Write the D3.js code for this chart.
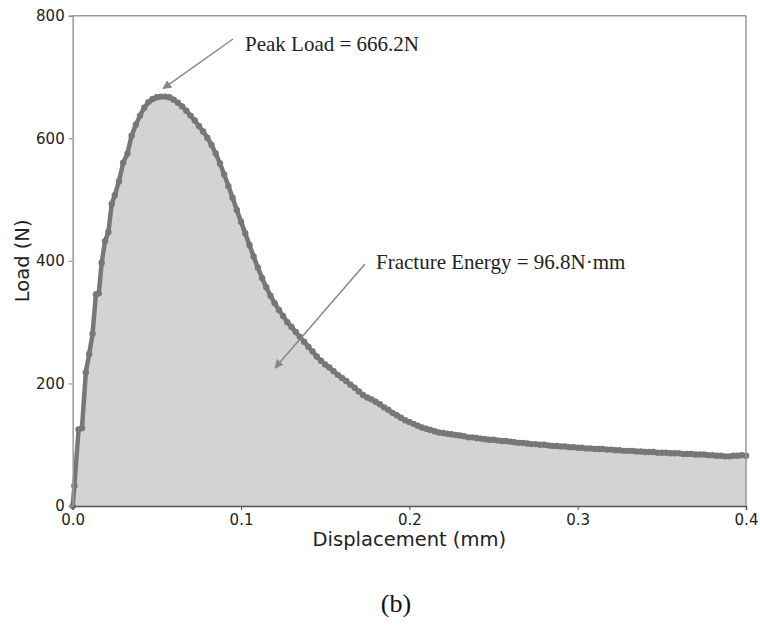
<!DOCTYPE html>
<html>
<head>
<meta charset="utf-8">
<script src="https://cdn.jsdelivr.net/npm/d3@7"></script>
<style>
  html, body { margin: 0; padding: 0; background: #fff; }
  svg { display: block; }
</style>
</head>
<body>
<svg id="chart" width="760" height="629"></svg>
<script>
// ---- data ----
const displacement = [
  0, 0.001, 0.0035, 0.0055, 0.0078, 0.0098, 0.0118, 0.0138, 0.0155, 0.0172,
  0.0192, 0.0212, 0.0232, 0.025, 0.0275, 0.03, 0.0325, 0.035, 0.0375, 0.04,
  0.0425, 0.045, 0.0475, 0.05, 0.0525, 0.055, 0.0575, 0.06, 0.0625, 0.065,
  0.0675, 0.07, 0.0725, 0.075, 0.0775, 0.08, 0.0825, 0.085, 0.0875, 0.09,
  0.0925, 0.095, 0.0975, 0.1, 0.1025, 0.105, 0.1075, 0.11, 0.1125, 0.115,
  0.1175, 0.12, 0.1225, 0.125, 0.1275, 0.13, 0.1325, 0.135, 0.1375, 0.14,
  0.1425, 0.145, 0.1475, 0.15, 0.1525, 0.155, 0.1575, 0.16, 0.1625, 0.165,
  0.1675, 0.17, 0.1725, 0.175, 0.1775, 0.18, 0.1825, 0.185, 0.1875, 0.19,
  0.1925, 0.195, 0.1975, 0.2, 0.2025, 0.205, 0.2075, 0.21, 0.2125, 0.215,
  0.2175, 0.22, 0.2225, 0.225, 0.2275, 0.23, 0.2325, 0.235, 0.2375, 0.24,
  0.2425, 0.245, 0.2475, 0.25, 0.2525, 0.255, 0.2575, 0.26, 0.2625, 0.265,
  0.2675, 0.27, 0.2725, 0.275, 0.2775, 0.28, 0.2825, 0.285, 0.2875, 0.29,
  0.2925, 0.295, 0.2975, 0.3, 0.3025, 0.305, 0.3075, 0.31, 0.3125, 0.315,
  0.3175, 0.32, 0.3225, 0.325, 0.3275, 0.33, 0.3325, 0.335, 0.3375, 0.34,
  0.3425, 0.345, 0.3475, 0.35, 0.3525, 0.355, 0.3575, 0.36, 0.3625, 0.365,
  0.3675, 0.37, 0.3725, 0.375, 0.3775, 0.38, 0.3825, 0.385, 0.3875, 0.39,
  0.3925, 0.395, 0.3975, 0.4
];
const load = [
  0, 33, 125, 127, 218, 248, 281, 345, 347, 397,
  432, 447, 493, 507, 530, 560, 575, 604, 622, 637,
  650, 659, 664, 667, 668, 668, 667, 663, 658, 652,
  645, 637, 629, 620, 611, 601, 589, 575, 559, 541,
  522, 503, 483, 464, 445, 426, 407, 389, 372, 357,
  343, 331, 320, 310, 300, 292, 284, 276, 268, 260,
  252, 244, 237, 231, 226, 220, 214, 209, 204, 198,
  193, 187, 181, 177, 174, 170, 166, 161, 157, 152,
  148, 144, 140, 137, 134, 131, 128, 126, 124, 122,
  120, 119, 118, 117, 116, 115, 114, 112, 112, 111,
  110, 109, 108, 108, 107, 106, 106, 105, 104, 103,
  103, 102, 101, 101, 100, 100, 99, 98, 98, 97,
  97, 96, 96, 95, 95, 94, 94, 93, 93, 93,
  92, 92, 91, 91, 90, 90, 90, 89, 89, 88,
  88, 88, 87, 87, 87, 86, 86, 86, 85, 85,
  85, 84, 84, 84, 83, 83, 82, 82, 81, 81,
  82, 82, 83, 82
];
const xTicks = [0.0, 0.1, 0.2, 0.3, 0.4];
const yTicks = [0, 200, 400, 600, 800];
const xLabel = "Displacement (mm)";
const yLabel = "Load (N)";
const peakText = "Peak Load = 666.2N";
const energyText = "Fracture Energy = 96.8N\u00B7mm";
const captionText = "(b)";

// ---- layout ----
const svg = d3.select("#chart");
const plotL = 72.7, plotT = 15.7, plotR = 746, plotB = 506;

const x = d3.scaleLinear().domain([0, 0.4]).range([plotL, plotR]);
const y = d3.scaleLinear().domain([0, 800]).range([plotB, plotT]);

const pts = displacement.map((d, i) => ({ x: d, y: load[i] }));

// fill
svg.append("path")
  .datum(pts)
  .attr("fill", "#d3d3d3")
  .attr("d", d3.area().x(d => x(d.x)).y0(y(0)).y1(d => y(d.y)));

// line
svg.append("path")
  .datum(pts)
  .attr("fill", "none")
  .attr("stroke", "#777")
  .attr("stroke-width", 4.5)
  .attr("stroke-linejoin", "round")
  .attr("d", d3.line().x(d => x(d.x)).y(d => y(d.y)));

// markers
svg.append("g").selectAll("circle")
  .data(pts)
  .join("circle")
  .attr("cx", d => x(d.x))
  .attr("cy", d => y(d.y))
  .attr("r", 3.2)
  .attr("fill", "#777");

// frame
svg.append("line").attr("x1", plotL).attr("x2", plotR).attr("y1", plotT).attr("y2", plotT)
  .attr("stroke", "#999").attr("stroke-width", 1.5);
svg.append("line").attr("x1", plotR).attr("x2", plotR).attr("y1", plotT).attr("y2", plotB)
  .attr("stroke", "#999").attr("stroke-width", 1.5);

// axes
const xAxis = svg.append("g")
  .attr("transform", `translate(0,${plotB})`)
  .call(d3.axisBottom(x).tickValues(xTicks).tickFormat(d3.format(".1f")).tickSizeOuter(0).tickSize(4).tickPadding(4));
const yAxis = svg.append("g")
  .attr("transform", `translate(${plotL},0)`)
  .call(d3.axisLeft(y).tickValues(yTicks).tickFormat(d3.format("d")).tickSizeOuter(0).tickSize(4).tickPadding(4));

xAxis.select(".domain").attr("stroke", "#555").attr("stroke-width", 1.5);
yAxis.select(".domain").attr("stroke", "#999").attr("stroke-width", 1.5);
xAxis.selectAll(".tick line").attr("stroke", "#555");
yAxis.selectAll(".tick line").attr("stroke", "#888");
[xAxis, yAxis].forEach(g => g.selectAll(".tick text")
  .attr("font-family", "DejaVu Sans")
  .attr("font-size", 15)
  .attr("fill", "#222"));

// axis labels
svg.append("text")
  .attr("x", (plotL + plotR) / 2)
  .attr("y", 546)
  .attr("text-anchor", "middle")
  .attr("font-family", "DejaVu Sans")
  .attr("font-size", 19.5)
  .attr("fill", "#222")
  .text(xLabel);
svg.append("text")
  .attr("transform", `translate(29,${(plotT + plotB) / 2}) rotate(-90)`)
  .attr("text-anchor", "middle")
  .attr("font-family", "DejaVu Sans")
  .attr("font-size", 19.5)
  .attr("fill", "#222")
  .text(yLabel);

// arrows
const defs = svg.append("defs");
defs.append("marker")
  .attr("id", "arrow")
  .attr("viewBox", "0 0 10 10")
  .attr("refX", 9).attr("refY", 5)
  .attr("markerWidth", 9).attr("markerHeight", 9)
  .attr("markerUnits", "userSpaceOnUse")
  .attr("orient", "auto")
  .append("path")
  .attr("d", "M0,0 L10,5 L0,10 z")
  .attr("fill", "#888");

const peakIdx = d3.maxIndex(load);
svg.append("line")
  .attr("x1", 233).attr("y1", 39)
  .attr("x2", x(displacement[peakIdx]) + 2).attr("y2", y(load[peakIdx]) - 8)
  .attr("stroke", "#888").attr("stroke-width", 1.5)
  .attr("marker-end", "url(#arrow)");
svg.append("line")
  .attr("x1", 365).attr("y1", 264)
  .attr("x2", 275).attr("y2", 368)
  .attr("stroke", "#888").attr("stroke-width", 1.5)
  .attr("marker-end", "url(#arrow)");

// annotations
svg.append("text")
  .attr("x", 245).attr("y", 51)
  .attr("font-family", "Liberation Serif")
  .attr("font-size", 21)
  .attr("fill", "#222")
  .text(peakText);
svg.append("text")
  .attr("x", 376).attr("y", 269)
  .attr("font-family", "Liberation Serif")
  .attr("font-size", 21)
  .attr("fill", "#222")
  .text(energyText);

// caption
svg.append("text")
  .attr("x", 396).attr("y", 612)
  .attr("text-anchor", "middle")
  .attr("font-family", "Liberation Serif")
  .attr("font-size", 26)
  .attr("fill", "#111")
  .text(captionText);
</script>
</body>
</html>
